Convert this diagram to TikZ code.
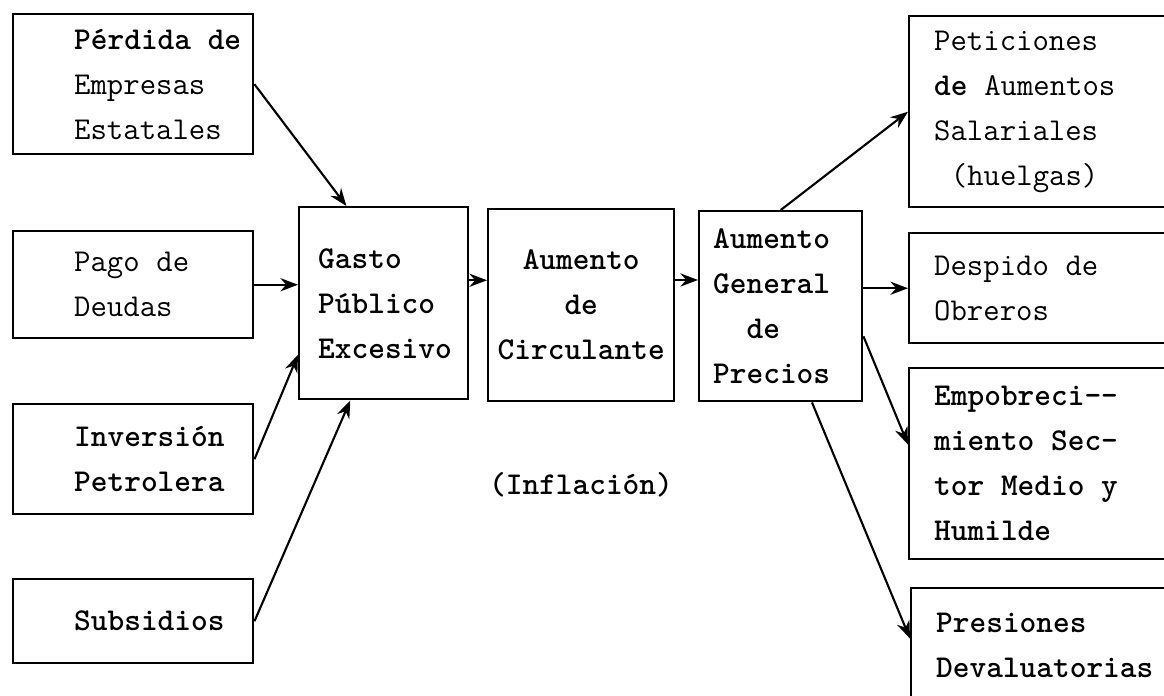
\documentclass[tikz,border=0pt]{standalone}
\usepackage{fontspec}
\usepackage{tikz}
\usetikzlibrary{arrows.meta}

\begin{document}
\begin{tikzpicture}[every node/.style={font=\ttfamily\fontsize{18.1pt}{25.6pt}\selectfont},heavy/.style={font=\ttfamily\bfseries\fontsize{18.1pt}{25.6pt}\selectfont},box/.style={draw,line width=1.4pt,inner xsep=0pt,align=left,anchor=north west},pad/.style={execute at begin node={\leftskip=#1\relax\spaceskip=.525em\relax\xspaceskip=.525em\relax}},link/.style={line width=1.2pt,-{Stealth[length=10pt,width=7.5pt]}}]
\useasboundingbox (0,0) rectangle (23.28,-13.9);\clip (0,0) rectangle (23.28,-13.9);
\node[box,text width=4.8cm,minimum height=2.8cm,pad=1.22cm] (perdida) at (0.24,-0.26) {\textbf{Pérdida de}\\Empresas\\Estatales};
\node[box,text width=4.8cm,minimum height=2.14cm,pad=1.22cm] (pago) at (0.24,-4.6) {Pago de\\Deudas};
\node[box,heavy,text width=4.8cm,minimum height=2.2cm,pad=1.22cm] (inversion) at (0.24,-8.06) {Inversión\\Petrolera};
\node[box,heavy,text width=4.8cm,minimum height=1.68cm,pad=1.22cm] (subsidios) at (0.24,-11.56) {Subsidios};
\node[box,heavy,text width=3.38cm,minimum height=3.84cm,pad=0.38cm] (gasto) at (5.96,-4.12) {Gasto\\Público\\Excesivo};
\node[box,heavy,text width=3.72cm,minimum height=3.84cm,align=center] (circulante) at (9.74,-4.16) {Aumento\\de\\Circulante};
\node[box,heavy,text width=3.26cm,minimum height=3.8cm,pad=0.28cm] (general) at (13.96,-4.2) {Aumento\\General\\\hspace*{1.05em}de\\Precios};
\node[box,text width=5.4cm,minimum height=3.82cm,pad=0.5cm] (peticiones) at (18.16,-0.3) {Peticiones\\\textbf{de} Aumentos\\Salariales\\\hspace*{.525em}(huelgas)};
\node[box,text width=5.4cm,minimum height=2.2cm,pad=0.5cm] (despido) at (18.16,-4.64) {Despido de\\Obreros};
\node[box,heavy,text width=5.4cm,minimum height=3.82cm,pad=0.5cm] (empobrec) at (18.16,-7.34) {Empobreci-\kern0pt-\\miento Sec-\\tor Medio y\\Humilde};
\node[box,heavy,text width=5.4cm,minimum height=2.3cm,pad=0.5cm] (presiones) at (18.2,-11.74) {Presiones\\Devaluatorias};
\node[heavy] (inflacion) at (11.62,-9.7) {(Inflación)};
\draw[link] (perdida.east)--(gasto.111);\draw[link] (pago.east)--(pago.east -| gasto.west);
\draw[link] (inversion.east)--(gasto.211);\draw[link] (subsidios.east)--(gasto.251);
\draw[link] (gasto.15)--(gasto.15 -| circulante.west);\draw[link] (circulante.15)--(circulante.15 -| general.west);
\draw[link] (general.north)--(peticiones.west);\draw[link] (despido.west -| general.east)--(despido.west);
\draw[link] (general.340)--(empobrec.172);\draw[link] (general.288)--(presiones.177);
\end{tikzpicture}
\end{document}
